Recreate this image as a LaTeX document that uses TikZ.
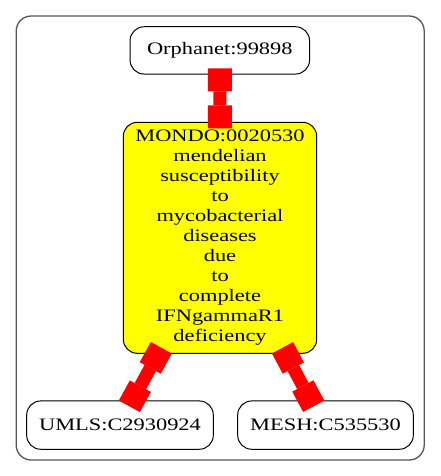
\documentclass[tikz,border=0pt]{standalone}
\usepackage{fontspec}
\setmainfont{Liberation Serif}[FakeStretch=1.28]
\usetikzlibrary{arrows.meta}
\definecolor{edgered}{HTML}{FF0000}
\definecolor{nodeyellow}{HTML}{FFFF00}
\definecolor{framegray}{HTML}{555555}
\begin{document}
\begin{tikzpicture}[x=1pt,y=-1pt,
  gnode/.style={draw=black, line width=1pt, rounded corners=14pt, inner sep=0pt, outer sep=0pt,
    align=center, font={\fontsize{17.5}{20}\selectfont}},
  edge/.style={draw=edgered, line width=13pt,
    {Square[length=23pt,width=24pt,line width=0pt]}-{Square[length=23pt,width=24pt,line width=0pt]}}
]
\useasboundingbox (0,0) rectangle (440,476);
\node[draw=framegray, line width=1.3pt, rounded corners=15pt, minimum width=408pt, minimum height=444pt, inner sep=0pt, outer sep=0pt] (frame) at (220.2,238) {};
\node[gnode, fill=white, minimum width=179.5pt, minimum height=47.3pt] (orph) at (219.8,50.4) {Orphanet:99898};
\node[gnode, fill=nodeyellow, minimum width=193.4pt, minimum height=231pt] (mondo) at (220,237.8)
  {MONDO:0020530\\mendelian\\susceptibility\\to\\mycobacterial\\diseases\\due\\to\\complete\\IFNgammaR1\\deficiency};
\node[gnode, fill=white, minimum width=186.6pt, minimum height=48.3pt] (umls) at (120,425.1) {UMLS:C2930924};
\node[gnode, fill=white, minimum width=175.6pt, minimum height=48.3pt] (mesh) at (325.5,425.1) {MESH:C535530};
\draw[edge] ([yshift=5.7pt]orph.south) -- ([yshift=-6pt]mondo.north);
\draw[edge] ([xshift=-58.7pt,yshift=5.5pt]mondo.south) -- ([xshift=9.3pt,yshift=-5.4pt]umls.north);
\draw[edge] ([xshift=62.5pt,yshift=5.5pt]mondo.south) -- ([xshift=-11.8pt,yshift=-5.3pt]mesh.north);
\end{tikzpicture}
\end{document}
